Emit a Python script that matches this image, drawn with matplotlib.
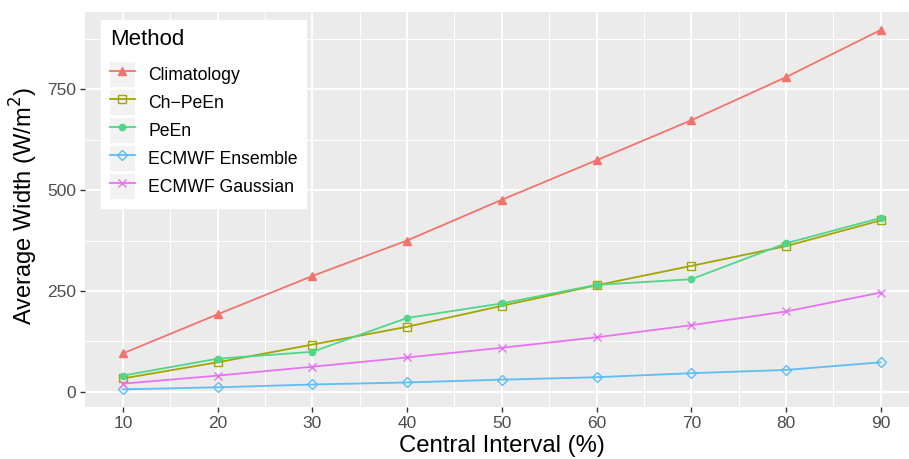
import matplotlib
matplotlib.use("Agg")
from matplotlib import pyplot as plt
from matplotlib.legend_handler import HandlerLine2D
from matplotlib.patches import Rectangle
from matplotlib.ticker import MultipleLocator

plt.rcParams['font.family'] = ['Liberation Sans', 'DejaVu Sans']

interval = [10, 20, 30, 40, 50, 60, 70, 80, 90]
methods = ['Climatology', 'Ch\u2212PeEn', 'PeEn', 'ECMWF Ensemble', 'ECMWF Gaussian']
climatology = [95, 192, 287, 375, 476, 574, 673, 780, 897]
ch_peen = [33, 73, 117, 161, 213, 264, 312, 361, 425]
peen = [40, 82, 99, 183, 219, 265, 279, 368, 431]
ecmwf_ensemble = [6, 11, 18, 23, 30, 36, 46, 54, 73]
ecmwf_gaussian = [20, 40, 62, 85, 109, 135, 165, 199, 246]

series = [climatology, ch_peen, peen, ecmwf_ensemble, ecmwf_gaussian]
colors = ['#F2736E', '#A3A500', '#4FD68A', '#5CBEF5', '#E773F1']
markers = [
    dict(marker='^', markersize=6),
    dict(marker='s', markersize=6, markerfacecolor='none', markeredgewidth=1.0),
    dict(marker='o', markersize=4.5),
    dict(marker='D', markersize=5.5, markerfacecolor='none', markeredgewidth=1.0),
    dict(marker='x', markersize=6, markeredgewidth=1.0),
]


class KeyHandler(HandlerLine2D):
    # line key drawn on a light grey square, like ggplot's legend keys
    def create_artists(self, legend, orig_handle, xdescent, ydescent,
                       width, height, fontsize, trans):
        bg = Rectangle((-xdescent, -ydescent), width, height,
                       facecolor='#F2F2F2', edgecolor='none', transform=trans)
        arts = super().create_artists(legend, orig_handle, xdescent, ydescent,
                                      width, height, fontsize, trans)
        return [bg] + list(arts)


fig = plt.figure(figsize=(9.09, 4.59), dpi=100)
ax = fig.add_axes([85 / 909, 1 - 407.3 / 459, (918.6 - 85) / 909, (407.3 - 12) / 459])
ax.set_facecolor('#EBEBEB')

for name, ys, c, mk in zip(methods, series, colors, markers):
    ax.plot(interval, ys, color=c, linewidth=1.3, label=name, **mk)

# ggplot style expansion
all_y = [v for s in series for v in s]
lo, hi = min(all_y), max(all_y)
pad = 0.05 * (hi - lo)
ax.set_ylim(lo - pad, hi + pad)
xpad = 0.05 * (max(interval) - min(interval))
ax.set_xlim(min(interval) - xpad, max(interval) + xpad)

ax.xaxis.set_major_locator(MultipleLocator(10))
ax.xaxis.set_minor_locator(MultipleLocator(5))
ax.yaxis.set_major_locator(MultipleLocator(250))
ax.yaxis.set_minor_locator(MultipleLocator(125))
ax.grid(which='major', color='white', linewidth=1.4)
ax.grid(which='minor', color='white', linewidth=0.7)
ax.set_axisbelow(True)
for sp in ax.spines.values():
    sp.set_visible(False)

ax.tick_params(which='major', length=3.5, width=1.0, color='#333333',
               labelsize=12.5, labelcolor='#4D4D4D', pad=3)
ax.tick_params(which='minor', length=0)

ax.set_xlabel('Central Interval (%)', fontsize=17.2, labelpad=3)
ax.set_ylabel('Average Width (W/m$^2$)', fontsize=17, labelpad=5)
ax.yaxis.label.set_y(0.508)

leg = ax.legend(title='Method', loc='upper left',
                bbox_to_anchor=(101 / 909, 1 - 20 / 459), bbox_transform=fig.transFigure,
                borderaxespad=0, fontsize=12.7, title_fontsize=16, frameon=True,
                fancybox=False, edgecolor='white', facecolor='white', framealpha=1,
                handlelength=1.42, handleheight=1.81, handletextpad=0.75,
                labelspacing=0.17, borderpad=0.5,
                handler_map={matplotlib.lines.Line2D: KeyHandler()})
leg._legend_box.align = 'left'
leg._legend_box.sep = 8.5  # gap between title and keys

fig.savefig('out.png', dpi=100)
